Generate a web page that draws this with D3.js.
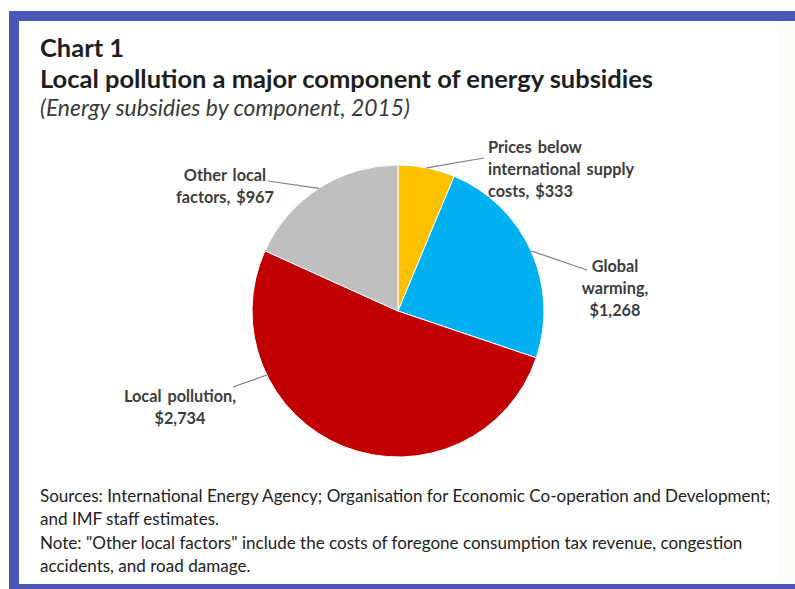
<!DOCTYPE html>
<html>
<head>
<meta charset="utf-8">
<script src="https://cdn.jsdelivr.net/npm/d3@7/dist/d3.min.js"></script>
<style>
  body { margin: 0; background: #fff; }
  svg { display: block; }
</style>
</head>
<body>
<div id="viz"></div>
<script>
// data
var categories = ["Prices below international supply costs", "Global warming", "Local pollution", "Other local factors"];
var values = [333, 1268, 2734, 967];
var colors = ["#ffc000", "#00b0f0", "#c00000", "#bfbfbf"];
var nameLines = [["Prices below", "international supply", "costs,"], ["Global", "warming,"], ["Local pollution,"], ["Other local", "factors,"]];
var valueOnNewLine = [false, true, true, false];

var titleLines = ["Chart 1", "Local pollution a major component of energy subsidies"];
var subtitle = "(Energy subsidies by component, 2015)";
var footerLines = [
  "Sources: International Energy Agency; Organisation for Economic Co-operation and Development;",
  "and IMF staff estimates.",
  "Note: \"Other local factors\" include the costs of foregone consumption tax revenue, congestion",
  "accidents, and road damage."
];

var width = 795, height = 589;
var cx = 398, cy = 311, radius = 146;
var font = "Lato, 'Open Sans', sans-serif";

// label placement (layout only)
var labelLayout = [
  { x: 488, y: 153, anchor: "start", ex: 484, ey: 158, angle: null },
  { x: 615, y: 272, anchor: "middle", ex: 587, ey: 270, angle: null },
  { x: 180, y: 402, anchor: "middle", ex: 233, ey: 387, angle: 244 },
  { x: 225, y: 181, anchor: "middle", ex: 268, ey: 181, angle: null }
];

var svg = d3.select("#viz").append("svg")
  .attr("width", width)
  .attr("height", height);

svg.append("rect").attr("width", width).attr("height", height).attr("fill", "#fff");

// frame
svg.append("rect").attr("x", 778).attr("y", 21).attr("width", width - 778).attr("height", 563).attr("fill", "#fcfcf8");
svg.append("rect").attr("x", 9).attr("y", 11).attr("width", width - 9).attr("height", 10).attr("fill", "#4b57b7");
svg.append("rect").attr("x", 9).attr("y", 11).attr("width", 10).attr("height", height - 11).attr("fill", "#4b57b7");
svg.append("rect").attr("x", 9).attr("y", 584).attr("width", width - 9).attr("height", 5).attr("fill", "#4b57b7");

// fit text to a target width by tuning font size
function fit(text, target, base) {
  var w = text.node().getComputedTextLength();
  var size = base * target / w;
  text.style("font-size", size.toFixed(2) + "px");
  return size;
}

var t1 = svg.append("text").attr("x", 40).attr("y", 57)
  .style("font-family", font).style("font-weight", "bold").style("font-size", "22px")
  .attr("fill", "#1e1e1e").text(titleLines[0]);
var t2 = svg.append("text").attr("x", 40).attr("y", 88)
  .style("font-family", font).style("font-weight", "bold").style("font-size", "22px")
  .attr("fill", "#1e1e1e").text(titleLines[1]);
fit(t2, 613, 22);
t1.style("font-size", t2.style("font-size"));

var st = svg.append("text").attr("x", 40).attr("y", 116)
  .style("font-family", font).style("font-style", "italic").style("font-size", "19px")
  .attr("fill", "#3a3a3a").text(subtitle);
fit(st, 370, 19);

// pie
var pie = d3.pie().sort(null).value(function (d) { return d; });
var arcs = pie(values);
var arc = d3.arc().innerRadius(0).outerRadius(radius);

var g = svg.append("g").attr("transform", "translate(" + cx + "," + cy + ")");

g.selectAll(".slice")
  .data(arcs)
  .enter()
  .append("path")
  .attr("class", "slice")
  .attr("d", arc)
  .attr("fill", function (d, i) { return colors[i]; })
  .attr("stroke", "#fff")
  .attr("stroke-width", 1);

// leader lines + labels
var fmt = d3.format(",");
arcs.forEach(function (d, i) {
  var L = labelLayout[i];
  var a = L.angle !== null ? L.angle * Math.PI / 180 : (d.startAngle + d.endAngle) / 2;
  var sx = cx + radius * Math.sin(a), sy = cy - radius * Math.cos(a);
  svg.append("line")
    .attr("x1", sx).attr("y1", sy)
    .attr("x2", L.ex).attr("y2", L.ey)
    .attr("stroke", "#7f7f7f").attr("stroke-width", 1.2);

  var lines = nameLines[i].slice();
  var v = "$" + fmt(values[i]);
  if (valueOnNewLine[i]) lines.push(v);
  else lines[lines.length - 1] += " " + v;

  var txt = svg.append("text")
    .attr("text-anchor", L.anchor)
    .style("font-family", font).style("font-weight", "bold").style("font-size", "16.3px")
    .style("word-spacing", "2px")
    .attr("fill", "#3d3d3d");
  lines.forEach(function (s, k) {
    txt.append("tspan").attr("x", L.x).attr("y", L.y + k * 22).text(s);
  });
});

// footer
var footerY = [502, 525, 549, 572];
var footer = svg.selectAll(".foot")
  .data(footerLines)
  .enter()
  .append("text")
  .attr("class", "foot")
  .attr("x", 40)
  .attr("y", function (d, i) { return footerY[i]; })
  .style("font-family", font).style("font-size", "15px")
  .attr("fill", "#222")
  .text(function (d) { return d; });
var fs = fit(d3.select(footer.nodes()[0]), 731, 15);
footer.style("font-size", fs.toFixed(2) + "px");
</script>
</body>
</html>
